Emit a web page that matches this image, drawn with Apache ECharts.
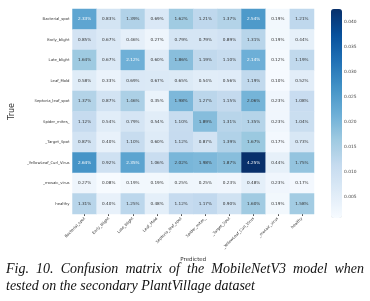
<!DOCTYPE html>
<html>
<head>
<meta charset="utf-8">
<script src="https://cdn.jsdelivr.net/npm/echarts@6/dist/echarts.min.js"></script>
<style>
  html, body { margin: 0; padding: 0; background: #fff; }
  #chart { width: 370px; height: 301px; }
</style>
</head>
<body>
<div id="chart"></div>
<script>
var classNames = ['Bacterial_spot', 'Early_blight', 'Late_blight', 'Leaf_Mold', 'Septoria_leaf_spot',
    'Spider_mites_', '_Target_Spot', '_YellowLeaf_Curl_Virus', '_mosaic_virus', 'healthy'];

// percent values, row = true class, column = predicted class
var rowBacterial = [2.33, 0.83, 1.39, 0.69, 1.62, 1.21, 1.37, 2.54, 0.19, 1.21];
var rowEarly     = [0.85, 0.67, 0.46, 0.27, 0.79, 0.79, 0.89, 1.31, 0.19, 0.44];
var rowLate      = [1.64, 0.67, 2.12, 0.60, 1.86, 1.19, 1.10, 2.14, 0.12, 1.19];
var rowLeafMold  = [0.58, 0.33, 0.69, 0.67, 0.65, 0.54, 0.56, 1.19, 0.10, 0.52];
var rowSeptoria  = [1.37, 0.87, 1.46, 0.35, 1.98, 1.27, 1.15, 2.06, 0.23, 1.08];
var rowSpider    = [1.12, 0.54, 0.79, 0.54, 1.10, 1.89, 1.31, 1.35, 0.23, 1.04];
var rowTarget    = [0.87, 0.40, 1.10, 0.60, 1.12, 0.87, 1.39, 1.67, 0.17, 0.73];
var rowYellow    = [2.64, 0.92, 2.35, 1.06, 2.02, 1.98, 1.87, 4.25, 0.44, 1.75];
var rowMosaic    = [0.27, 0.08, 0.19, 0.19, 0.25, 0.25, 0.23, 0.48, 0.23, 0.17];
var rowHealthy   = [1.31, 0.40, 1.25, 0.48, 1.12, 1.17, 0.90, 1.60, 0.19, 1.58];

var colorbarTicks = [0.005, 0.010, 0.015, 0.020, 0.025, 0.030, 0.035, 0.040];

var captionLine1 = 'Fig. 10. Confusion matrix of the MobileNetV3 model when';
var captionLine2 = 'tested on the secondary PlantVillage dataset';

var matrix = [rowBacterial, rowEarly, rowLate, rowLeafMold, rowSeptoria,
    rowSpider, rowTarget, rowYellow, rowMosaic, rowHealthy];

var vMin = 0.0008, vMax = 0.0425;
var blues = ['#f7fbff', '#deebf7', '#c6dbef', '#9ecae1', '#6baed6', '#4292c6', '#2171b5', '#08519c', '#08306b'];

var cells = [];
matrix.forEach(function (row, r) {
    row.forEach(function (v, c) {
        cells.push({
            value: [c, r, v / 100],
            label: { color: v >= 2.1 ? '#ffffff' : '#333333' }
        });
    });
});

// justified first caption line, like the paper's column text
var captionFont = 'italic 14px "Liberation Serif"';
var capLeft = 6, capRight = 364;
var ctx = document.createElement('canvas').getContext('2d');
ctx.font = captionFont;
var words = captionLine1.split(' ');
var wordsWidth = 0;
words.forEach(function (w) { wordsWidth += ctx.measureText(w).width; });
var gap = (capRight - capLeft - wordsWidth) / (words.length - 1);
var captionGraphics = [];
var cx = capLeft;
words.forEach(function (w) {
    captionGraphics.push({
        type: 'text', x: cx, y: 262,
        style: { text: w, font: captionFont, fill: '#111', textVerticalAlign: 'top' }
    });
    cx += ctx.measureText(w).width + gap;
});
captionGraphics.push({
    type: 'text', x: capLeft, y: 279,
    style: { text: captionLine2, font: captionFont, fill: '#111', textVerticalAlign: 'top' }
});

var chart = echarts.init(document.getElementById('chart'));
chart.setOption({
    animation: false,
    grid: [
        { left: 62, top: 9, width: 252, height: 205 },
        { left: 331, top: 9, width: 11, height: 209 }
    ],
    xAxis: [{
        type: 'category',
        data: classNames,
        gridIndex: 0,
        name: 'Predicted',
        nameLocation: 'middle',
        nameGap: 37,
        nameTextStyle: { fontSize: 5.5, color: '#333', fontFamily: 'DejaVu Sans' },
        axisLine: { show: false },
        axisTick: { show: true, alignWithLabel: true, length: 2, lineStyle: { color: '#555' } },
        axisLabel: { rotate: 45, fontSize: 3.8, color: '#333', margin: 4, interval: 0, fontFamily: 'DejaVu Sans' },
        splitLine: { show: false }
    }, {
        type: 'value',
        gridIndex: 1,
        show: false
    }],
    yAxis: [{
        type: 'category',
        data: classNames,
        gridIndex: 0,
        inverse: true,
        name: 'True',
        nameLocation: 'middle',
        nameGap: 50,
        nameRotate: 90,
        nameTextStyle: { fontSize: 8, color: '#333', fontFamily: 'DejaVu Sans' },
        axisLine: { show: false },
        axisTick: { show: false },
        axisLabel: { fontSize: 3.8, color: '#333', margin: 3, interval: 0, fontFamily: 'DejaVu Sans' },
        splitLine: { show: false }
    }, {
        type: 'value',
        gridIndex: 1,
        position: 'right',
        min: vMin,
        max: vMax,
        axisLine: { show: false },
        axisTick: { show: true, length: 2, customValues: colorbarTicks, lineStyle: { color: '#555' } },
        axisLabel: {
            fontSize: 4.4, color: '#444', margin: 2, fontFamily: 'DejaVu Sans',
            customValues: colorbarTicks,
            formatter: function (v) { return v.toFixed(3); }
        },
        splitLine: { show: false }
    }],
    visualMap: {
        type: 'continuous',
        min: vMin,
        max: vMax,
        seriesIndex: 0,
        calculable: false,
        showLabel: false,
        text: null,
        padding: 0,
        left: 331,
        top: 9,
        itemWidth: 11,
        itemHeight: 209,
        inRange: { color: blues }
    },
    series: [{
        type: 'heatmap',
        xAxisIndex: 0,
        yAxisIndex: 0,
        data: cells,
        label: {
            show: true,
            fontSize: 4.2,
            fontFamily: 'DejaVu Sans',
            formatter: function (p) { return (p.value[2] * 100).toFixed(2) + '%'; }
        },
        itemStyle: { borderWidth: 0 }
    }],
    graphic: captionGraphics
});
</script>
</body>
</html>
